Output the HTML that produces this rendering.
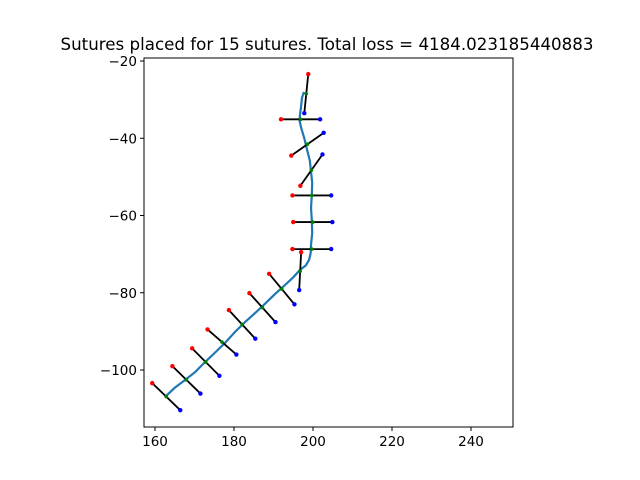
<!DOCTYPE html>
<html><head><meta charset="utf-8"><style>
body{margin:0;background:#fff;}
svg{display:block;font-family:"DejaVu Sans","Liberation Sans",sans-serif;}
</style></head><body>
<svg id="chart" width="640" height="480" viewBox="0 0 640 480">
<text x="327" y="50" font-size="16.5" text-anchor="middle" textLength="533" lengthAdjust="spacingAndGlyphs">Sutures placed for 15 sutures. Total loss = 4184.023185440883</text>
<g id="plot"></g>
<rect x="144" y="58" width="369" height="369" fill="none" stroke="#000" stroke-width="1"/>
</svg>
<script>
const woundX=[162.5,165.0,167.6,170.2,172.7,175.1,177.7,180.3,182.8,185.2,187.8,190.4,192.9,195.0,196.7,198.2,199.0,199.4,199.5,199.8,199.7,199.5,199.7,199.8,199.5,199.2,198.5,197.8,197.0,196.6,196.7,197.0,197.2,197.7];
const woundY=[-107.0,-104.6,-102.6,-100.5,-97.9,-95.6,-93.0,-90.1,-87.6,-85.4,-82.9,-80.3,-78.0,-76.0,-74.1,-72.9,-71.5,-69.8,-67.6,-64.5,-61.2,-58.0,-54.7,-51.5,-48.7,-45.8,-43.0,-40.0,-37.3,-35.5,-34.0,-31.6,-29.6,-28.0];
const insertX=[198.8,191.9,194.5,196.8,194.8,195.0,194.8,197.0,188.9,183.9,178.7,173.3,169.4,164.4,159.3];
const insertY=[-23.4,-35.1,-44.5,-52.3,-54.8,-61.7,-68.7,-69.5,-75.1,-80.1,-84.5,-89.5,-94.4,-99.0,-103.4];
const extractX=[197.8,201.8,202.7,202.4,204.6,204.9,204.6,196.5,195.3,190.5,185.4,180.6,176.3,171.5,166.4];
const extractY=[-33.5,-35.1,-38.6,-44.2,-54.8,-61.7,-68.7,-79.3,-83.0,-87.6,-91.9,-96.0,-101.5,-106.1,-110.4];
const xTicks=[160,180,200,220,240];
const yTicks=[-20,-40,-60,-80,-100];
const NS="http://www.w3.org/2000/svg";
const sx=v=>155+(v-160)*3.95;
const sy=v=>61-(v+20)*3.8625;
const svg=document.getElementById('chart');
const g=document.getElementById('plot');
function mk(t,a,p){const e=document.createElementNS(NS,t);for(const k in a)e.setAttribute(k,a[k]);(p||g).appendChild(e);return e;}
xTicks.forEach(v=>{
 const l=mk('line',{x1:sx(v),x2:sx(v),y1:427,y2:431,stroke:'#000'},svg);
 
 
 const t=mk('text',{x:sx(v),y:446,'font-size':'13.5','text-anchor':'middle'},svg);t.textContent=v;
 
 
});
yTicks.forEach(v=>{
 const l=mk('line',{x1:140,x2:144,y1:sy(v),y2:sy(v),stroke:'#000'},svg);
 
 
 const t=mk('text',{x:137,y:sy(v)+5,'font-size':'13.5','text-anchor':'end'},svg);t.textContent='\u2212'+Math.abs(v);
 
 
});
const wp=mk('polyline',{points:woundX.map((x,i)=>sx(x)+','+sy(woundY[i])).join(' '),fill:'none',stroke:'#1f77b4','stroke-width':2.2});


insertX.forEach((x,i)=>{
 const l=mk('line',{x1:sx(x),y1:sy(insertY[i]),x2:sx(extractX[i]),y2:sy(extractY[i]),stroke:'#000','stroke-width':1.8});
 
 
 const c=mk('circle',{cx:(sx(x)+sx(extractX[i]))/2,cy:(sy(insertY[i])+sy(extractY[i]))/2,r:1.8,fill:'green'});
 
 
 const r=mk('circle',{cx:sx(x),cy:sy(insertY[i]),r:2.2,fill:'red'});
 
 
 const b=mk('circle',{cx:sx(extractX[i]),cy:sy(extractY[i]),r:2.2,fill:'blue'});
 
 
});
</script>
</body></html>
